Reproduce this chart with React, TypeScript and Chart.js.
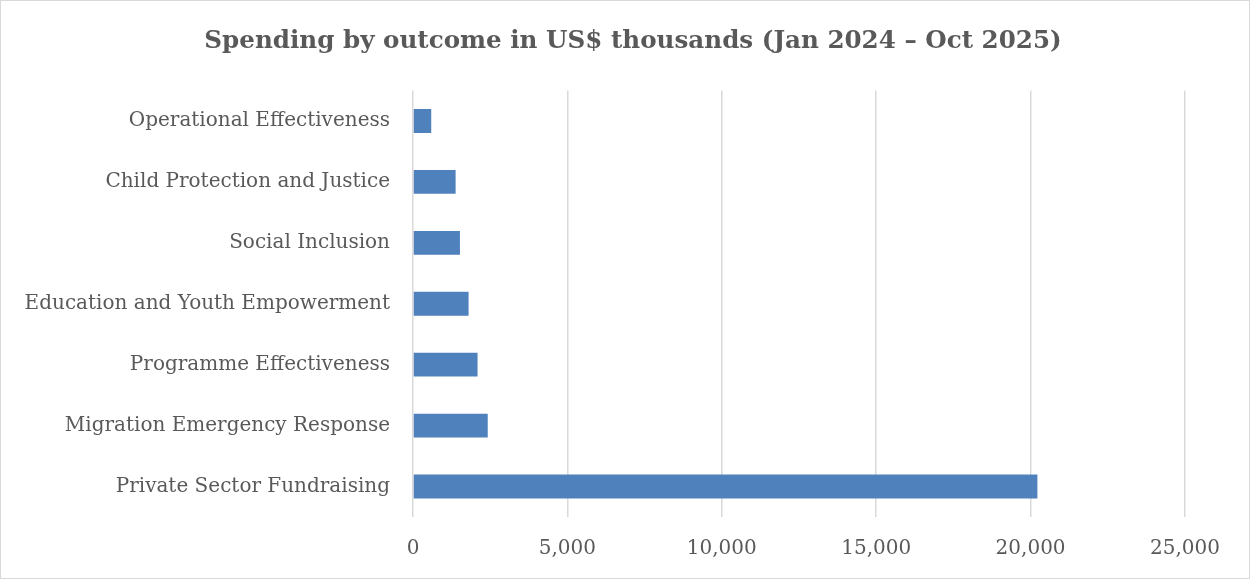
import React, { useEffect, useRef } from "react";
import { Chart, registerables } from "chart.js";

Chart.register(...registerables);

const categories = [
  "Operational Effectiveness",
  "Child Protection and Justice",
  "Social Inclusion",
  "Education and Youth Empowerment",
  "Programme Effectiveness",
  "Migration Emergency Response",
  "Private Sector Fundraising",
];
const spending = [590, 1380, 1520, 1800, 2090, 2420, 20220];
const titleText = "Spending by outcome in US$ thousands (Jan 2024 \u2013 Oct 2025)";
const xMax = 25000;
const xStep = 5000;

const FONT = "'DejaVu Serif', 'Liberation Serif', serif";
const TEXT = "#595959";

export default function App() {
  const ref = useRef<HTMLCanvasElement | null>(null);
  useEffect(() => {
    if (!ref.current) return;
    const chart = new Chart(ref.current, {
      type: "bar",
      data: {
        labels: categories,
        datasets: [
          {
            data: spending,
            backgroundColor: "#4f81bd",
            borderWidth: 0,
            categoryPercentage: 0.8,
            barPercentage: 0.49,
          },
        ],
      },
      options: {
        indexAxis: "y",
        responsive: false,
        animation: false,
        layout: { padding: { left: 0, right: 65, top: 90.5, bottom: 0 } },
        plugins: {
          legend: { display: false },
          tooltip: { enabled: false },
          title: { display: false },
        },
        scales: {
          x: {
            min: 0,
            max: xMax,
            afterFit: (s: any) => {
              s.height = 62;
            },
            ticks: {
              stepSize: xStep,
              color: TEXT,
              font: { family: FONT, size: 20 },
              padding: 20,
              maxRotation: 0,
              callback: (v: any) => Number(v).toLocaleString("en-US"),
            },
            grid: { color: "#d9d9d9", lineWidth: 1.5, drawTicks: false },
            border: { display: false },
          },
          y: {
            afterFit: (s: any) => {
              s.width = 413;
            },
            ticks: {
              color: TEXT,
              font: { family: FONT, size: 20 },
              padding: 23,
            },
            grid: { display: false, drawTicks: false },
            border: { display: false },
          },
        },
      },
    });
    return () => chart.destroy();
  }, []);
  return (
    <div style={{ position: "fixed", left: 0, top: 0, width: 1250, height: 579, background: "#fff" }}>
      <canvas ref={ref} width={1250} height={579} style={{ position: "absolute", left: 0, top: 0 }} />
      <div
        style={{
          position: "absolute",
          left: 0,
          top: 25,
          width: 1266,
          lineHeight: "30px",
          textAlign: "center",
          fontFamily: FONT,
          fontWeight: "bold",
          fontSize: 24.6,
          color: TEXT,
          whiteSpace: "nowrap",
        }}
      >
        {titleText}
      </div>
      <div
        style={{
          position: "absolute",
          left: 0,
          top: 0,
          width: 1250,
          height: 579,
          boxSizing: "border-box",
          border: "1.5px solid #d9d9d9",
          pointerEvents: "none",
        }}
      />
    </div>
  );
}
